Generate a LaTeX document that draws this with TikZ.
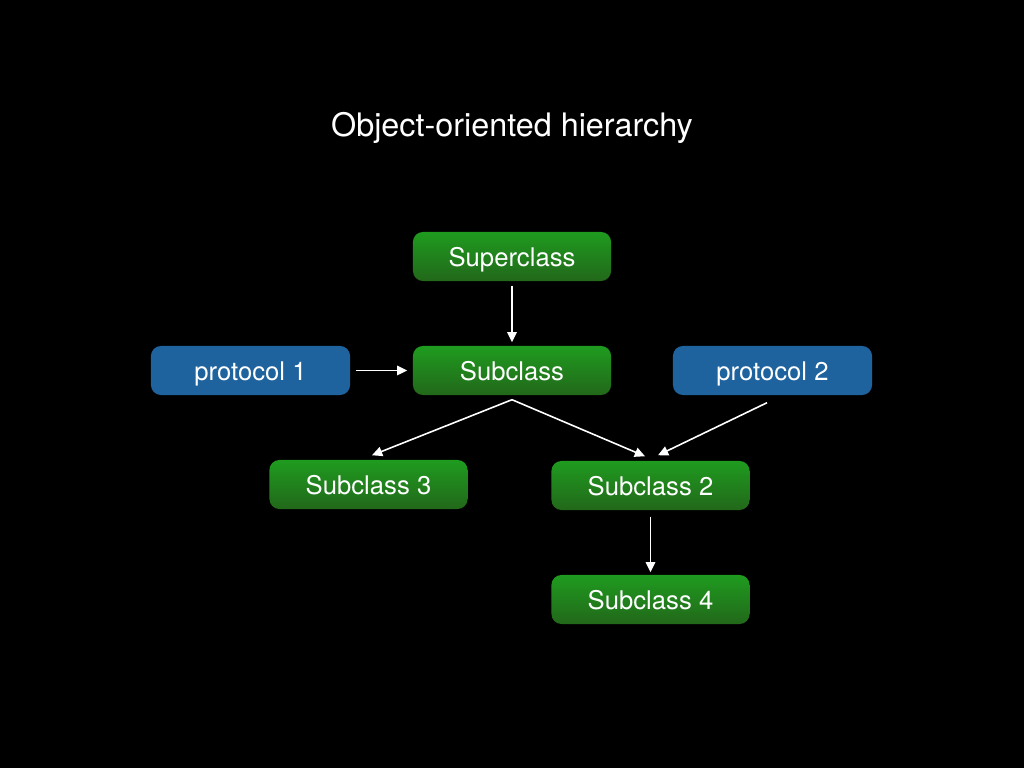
\documentclass[tikz,border=0pt]{standalone}
\usepackage{fontspec}
\setmainfont{TeX Gyre Heros}
\usetikzlibrary{calc,arrows.meta}
\definecolor{gtop}{RGB}{31,155,31}
\definecolor{gbot}{RGB}{34,104,26}
\definecolor{pblue}{RGB}{31,99,158}
\tikzset{
  cls/.style={rounded corners=0.1cm, minimum width=1.98cm, minimum height=0.49cm,
    top color=gtop, bottom color=gbot, text=white, inner sep=0pt,
    text height=7pt, text depth=1.3pt,
    font=\fontsize{7.3pt}{8pt}\selectfont},
  proto/.style={rounded corners=0.1cm, minimum width=1.99cm, minimum height=0.49cm,
    fill=pblue, text=white, inner sep=0pt,
    text height=7pt, text depth=1.3pt,
    font=\fontsize{7.3pt}{8pt}\selectfont},
  conn/.style={draw=white, line width=0.45pt,
    -{Triangle[length=2.9pt,width=2.7pt]}}
}
\begin{document}
\begin{tikzpicture}[x=0.01cm,y=-0.01cm]
\fill[black] (0,0) rectangle (1024,768);
\useasboundingbox (0,0) rectangle (1024,768);
\node[text=white, font=\fontsize{9.2pt}{11pt}\selectfont] (title) at (512,128) {Object-oriented hierarchy};
\node[cls] (super) at (512,256.5) {Superclass};
\node[cls] (sub) at (512,370.5) {Subclass};
\node[proto] (p1) at (250.5,370.5) {protocol 1};
\node[proto] (p2) at (772.5,370.5) {protocol 2};
\node[cls] (sub3) at (368.5,484.5) {Subclass 3};
\node[cls] (sub2) at (650.5,485.5) {Subclass 2};
\node[cls] (sub4) at (650.5,599.5) {Subclass 4};
\draw[conn] ($(super.south)+(0,4)$) -- ($(sub.north)+(0,-3)$);
\draw[conn] ($(p1.east)+(5,0)$) -- ($(sub.west)+(-5,0)$);
\draw[conn] ($(sub.south)+(0,4)$) -- ($(sub3.north)+(3.5,-4)$);
\draw[conn] ($(sub.south)+(0,4)$) -- ($(sub2.north)+(-5.5,-4)$);
\draw[conn] ($(p2.south)+(-5.5,7)$) -- ($(sub2.north)+(7.5,-5)$);
\draw[conn] ($(sub2.south)+(0,6)$) -- ($(sub4.north)+(0,-2)$);
\end{tikzpicture}
\end{document}
